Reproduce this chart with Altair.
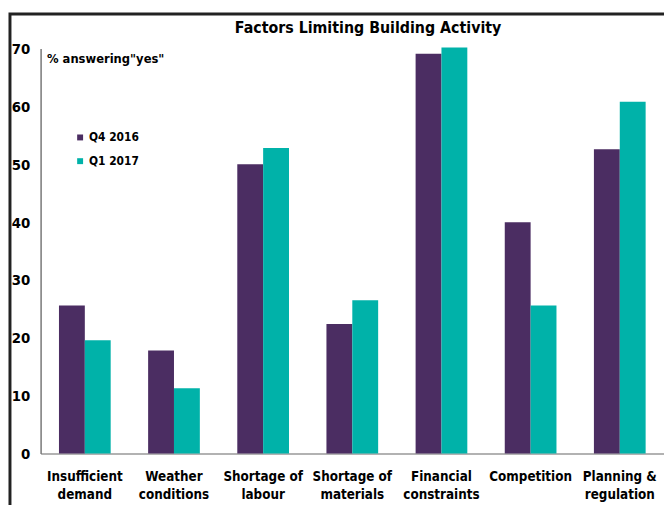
import altair as alt
import pandas as pd

categories = ["Insufficient demand", "Weather conditions", "Shortage of labour",
              "Shortage of materials", "Financial constraints", "Competition",
              "Planning & regulation"]
series = ["Q4 2016", "Q1 2017"]
q4_2016 = [25.6, 17.8, 50.0, 22.4, 69.1, 40.0, 52.6]
q1_2017 = [19.6, 11.3, 52.8, 26.5, 70.2, 25.6, 60.8]
colors = ["#4B2D62", "#00B2A9"]
y_ticks = [0, 10, 20, 30, 40, 50, 60, 70]
chart_title = "Factors Limiting Building Activity"

rows = []
for i, c in enumerate(categories):
    rows.append({"cat": c, "series": series[0], "value": q4_2016[i]})
    rows.append({"cat": c, "series": series[1], "value": q1_2017[i]})
df = pd.DataFrame(rows)

FONT = "DejaVu Sans Condensed, Liberation Sans Narrow, Arial Narrow, Liberation Sans"
W, H = 631, 410

label_expr = "datum.value == 'Insufficient demand' ? ['Insufficient','demand'] : " \
             "datum.value == 'Weather conditions' ? ['Weather','conditions'] : " \
             "datum.value == 'Shortage of labour' ? ['Shortage of','labour'] : " \
             "datum.value == 'Shortage of materials' ? ['Shortage of','materials'] : " \
             "datum.value == 'Financial constraints' ? ['Financial','constraints'] : " \
             "datum.value == 'Planning & regulation' ? ['Planning &','regulation'] : datum.value"

bars = alt.Chart(df).mark_bar().encode(
    x=alt.X("cat:N", sort=categories,
            scale=alt.Scale(paddingInner=0.42, paddingOuter=0.206),
            axis=alt.Axis(title=None, labelAngle=0, labelExpr=label_expr,
                          labelFont=FONT, labelFontSize=13.5, labelFontWeight="bold",
                          labelColor="#000", labelPadding=16, labelLineHeight=18,
                          ticks=False, domainColor="#999", domainWidth=1.5,
                          labelBaseline="top")),
    xOffset=alt.XOffset("series:N", sort=series, scale=alt.Scale(paddingInner=0, paddingOuter=0)),
    y=alt.Y("value:Q", scale=alt.Scale(domain=[0, 70], nice=False),
            axis=alt.Axis(title='% answering"yes"', titleAngle=0, titleX=6, titleY=10,
                          titleAlign="left", titleBaseline="middle", titleFont=FONT,
                          titleFontSize=13, titleFontWeight="bold", titleColor="#000",
                          values=y_ticks, grid=False, ticks=False,
                          labelFont=FONT, labelFontSize=15, labelFontWeight="bold",
                          labelColor="#000", labelPadding=11,
                          domainColor="#777", domainWidth=1.5)),
    color=alt.Color("series:N", sort=series,
                    scale=alt.Scale(domain=series, range=colors),
                    legend=alt.Legend(title=None, orient="none", legendX=34, legendY=84,
                                      symbolType="square", symbolSize=36,
                                      symbolStrokeWidth=0, rowPadding=12,
                                      labelFont=FONT, labelFontSize=12,
                                      labelFontWeight="bold", labelColor="#000",
                                      labelOffset=3)),
)

title_mark = alt.Chart(alt.Data(values=[{"t": chart_title}])).mark_text(
    font=FONT, fontSize=16, fontWeight="bold", color="#000",
    align="center", baseline="middle"
).encode(text="t:N", x=alt.value(W / 2 + 16), y=alt.value(-21))

frame = alt.Chart(alt.Data(values=[{"a": 1}])).mark_rect(
    fill=None, stroke="#222", strokeWidth=3
).encode(
    x=alt.value(-31), x2=alt.value(W + 60),
    y=alt.value(-35), y2=alt.value(H + 90),
)

chart = alt.layer(bars, title_mark, frame).properties(
    width=W, height=H,
    padding={"left": 33, "top": 38, "right": 0, "bottom": 49},
    autosize=alt.AutoSizeParams(type="none"),
).configure_view(stroke=None)

chart.save("out.html", embed_options={"renderer": "svg", "actions": False})
